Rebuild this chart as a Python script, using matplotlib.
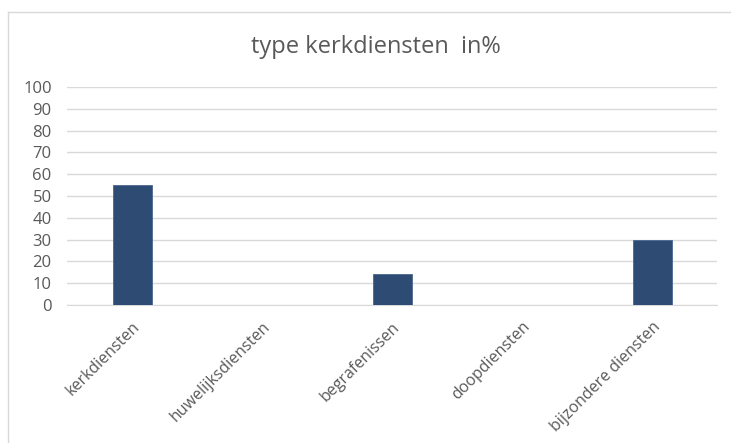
import matplotlib
matplotlib.use("Agg")
import matplotlib.pyplot as plt
from matplotlib.lines import Line2D

categories = ["kerkdiensten", "huwelijksdiensten", "begrafenissen", "doopdiensten", "bijzondere diensten"]
values = [55, 0, 14, 0, 30]
yticks = list(range(0, 101, 10))

plt.rcParams["font.family"] = ["Open Sans", "DejaVu Sans"]

fig = plt.figure(figsize=(7.31, 4.43), dpi=100)
fig.patch.set_facecolor("white")

# chart frame: only top and left edges are visible (cropped screenshot)
fx, fy = 7.5 / 731, 1 - 11.5 / 443
fig.add_artist(Line2D([fx, 1.0], [fy, fy], transform=fig.transFigure,
                      color="#D9D9D9", linewidth=1.0))
fig.add_artist(Line2D([fx, fx], [0.0, fy], transform=fig.transFigure,
                      color="#D9D9D9", linewidth=1.0))

ax = fig.add_axes([67 / 731, 138 / 443, 650 / 731, 218 / 443])
x = range(len(categories))
ax.bar(x, values, width=0.3, color="#2E4B73", edgecolor="#4A6690", linewidth=0.6, zorder=3)

ax.set_xlim(-0.5, len(categories) - 0.5)
ax.set_ylim(0, 100)
ax.set_yticks(yticks)
ax.set_xticks(list(x))
ax.set_xticklabels(categories, rotation=45, ha="right", rotation_mode="anchor")
ax.tick_params(axis="both", length=0, colors="#595959")
ax.tick_params(axis="y", pad=11, labelsize=12)
ax.tick_params(axis="x", pad=10, labelsize=11.5)
ax.grid(axis="y", color="#D9D9D9", linewidth=1.0, zorder=0)
for side in ["top", "right", "left"]:
    ax.spines[side].set_visible(False)
ax.spines["bottom"].set_color("#D9D9D9")

fig.text(376 / 731, 1 - 47 / 443, "type kerkdiensten  in%", ha="center", va="center",
         fontsize=17, color="#595959")

fig.savefig("out.png", dpi=100)
